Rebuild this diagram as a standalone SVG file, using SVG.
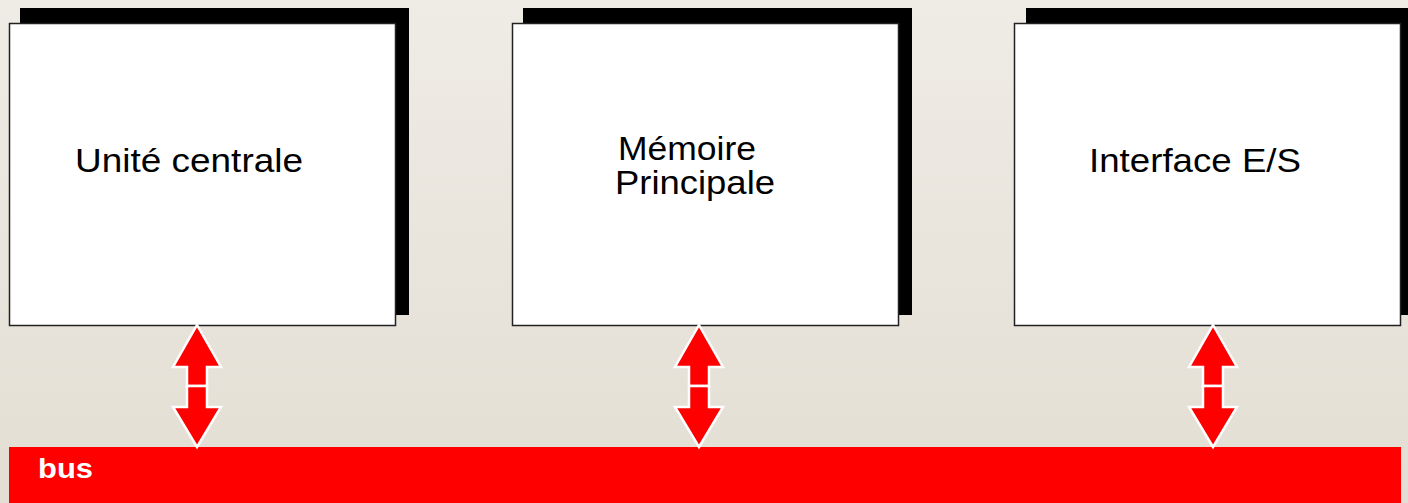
<svg xmlns="http://www.w3.org/2000/svg" width="1408" height="503" viewBox="0 0 1408 503">
  <defs>
    <linearGradient id="bg" x1="0" y1="0" x2="0" y2="1">
      <stop offset="0" stop-color="#EFECE6"/>
      <stop offset="1" stop-color="#E3DED3"/>
    </linearGradient>
  </defs>
  <style>
    .shadow { fill: #000000; }
    .box { fill: #FFFFFF; stroke: #222222; stroke-width: 1.5; }
    .lbl { font-family: "Liberation Sans", Arial, sans-serif; font-size: 33px; fill: #000000; }
    .arrow { fill: #FF0000; stroke: #FFFFFF; stroke-width: 2.5; stroke-linejoin: miter; }
    .bus { fill: #FF0000; }
    .buslbl { font-family: "Liberation Sans", Arial, sans-serif; font-size: 28px; font-weight: bold; fill: #FFFFFF; }
  </style>
  <rect x="0" y="0" width="1408" height="503" fill="url(#bg)"/>

  <g id="bus">
    <rect class="bus" x="9" y="447" width="1392" height="56"/>
    <text class="buslbl" x="38" y="478" textLength="55" lengthAdjust="spacingAndGlyphs">bus</text>
  </g>

  <g id="unite-centrale">
    <rect class="shadow" x="20" y="8" width="389" height="307"/>
    <rect class="box" x="9.5" y="23.5" width="386" height="302"/>
    <text class="lbl" x="75" y="172" textLength="228" lengthAdjust="spacingAndGlyphs">Unité centrale</text>
  </g>

  <g id="memoire-principale">
    <rect class="shadow" x="523" y="8" width="389" height="307"/>
    <rect class="box" x="512.5" y="23.5" width="386" height="302"/>
    <text class="lbl" x="618" y="160" textLength="138" lengthAdjust="spacingAndGlyphs">Mémoire</text>
    <text class="lbl" x="615" y="194" textLength="160" lengthAdjust="spacingAndGlyphs">Principale</text>
  </g>

  <g id="interface-es">
    <rect class="shadow" x="1026" y="8" width="389" height="307"/>
    <rect class="box" x="1014.5" y="23.5" width="386" height="302"/>
    <text class="lbl" x="1089" y="172" textLength="212" lengthAdjust="spacingAndGlyphs">Interface E/S</text>
  </g>

  <g id="connectors">
    <g transform="translate(197,0)">
      <polygon class="arrow" points="0,325 24,367 10,367 10,386 -10,386 -10,367 -24,367"/>
      <polygon class="arrow" points="0,447 24,407 10,407 10,386 -10,386 -10,407 -24,407"/>
    </g>
    <g transform="translate(699,0)">
      <polygon class="arrow" points="0,325 24,367 10,367 10,386 -10,386 -10,367 -24,367"/>
      <polygon class="arrow" points="0,447 24,407 10,407 10,386 -10,386 -10,407 -24,407"/>
    </g>
    <g transform="translate(1213,0)">
      <polygon class="arrow" points="0,325 24,367 10,367 10,386 -10,386 -10,367 -24,367"/>
      <polygon class="arrow" points="0,447 24,407 10,407 10,386 -10,386 -10,407 -24,407"/>
    </g>
  </g>
</svg>
